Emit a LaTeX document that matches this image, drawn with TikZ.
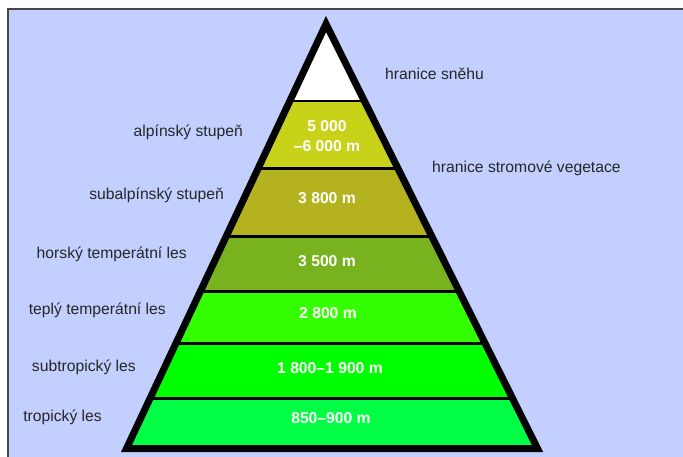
\documentclass[tikz,border=0pt]{standalone}
\usepackage{fontspec}
\setmainfont{Liberation Sans}
\usepackage{xcolor}
\usepackage{tikz}
\usetikzlibrary{positioning}
\definecolor{skyblue}{RGB}{195,208,255}
\definecolor{framegray}{RGB}{70,70,70}
\definecolor{alpinecol}{RGB}{200,210,25}
\definecolor{subalpinecol}{RGB}{180,178,30}
\definecolor{montanecol}{RGB}{120,178,30}
\definecolor{warmcol}{RGB}{51,255,0}
\definecolor{subtropcol}{RGB}{0,255,0}
\definecolor{tropcol}{RGB}{0,255,68}

\begin{document}
\begin{tikzpicture}[x=1pt,y=-1pt,
  zone/.style={inner sep=0pt,text=black!85,font=\fontsize{15.7}{19}\selectfont},
  height/.style={inner sep=0pt,text=white,align=center,font=\bfseries\fontsize{15.7}{20}\selectfont},
  border/.style={line width=3pt}]
\useasboundingbox (0,0) rectangle (683,457);
\fill[skyblue] (8,9) rectangle (683,457);
\draw[framegray,line width=1.5pt] (8,457) -- (8,9) -- (683,9);
\coordinate (top) at (326,24);
\coordinate (bl) at (126.5,448.5);
\coordinate (br) at (537.5,448.5);
\begin{scope}
\clip (top) -- (bl) -- (br) -- cycle;
\fill[white] (100,0) rectangle (560,101);
\fill[alpinecol] (100,101) rectangle (560,169);
\fill[subalpinecol] (100,169) rectangle (560,237);
\fill[montanecol] (100,237) rectangle (560,291);
\fill[warmcol] (100,291) rectangle (560,343);
\fill[subtropcol] (100,343) rectangle (560,398);
\fill[tropcol] (100,398) rectangle (560,460);
\draw[line width=2.5pt] (100,101) -- (560,101);
\draw[border] (100,169) -- (560,169);
\draw[border] (100,237) -- (560,237);
\draw[border] (100,291) -- (560,291);
\draw[border] (100,343) -- (560,343);
\draw[border] (100,398) -- (560,398);
\end{scope}
\draw[line width=7pt,line join=miter] (top) -- (bl) -- (br) -- cycle;
\node[height] (h1) at (327,136.5) {5~000\\–6~000 m};
\node[height,anchor=base] (h2) at (327,204) {3~800 m};
\node[height,anchor=base] (h3) at (327,267) {3~500 m};
\node[height,anchor=base] (h4) at (328,318) {2~800 m};
\node[height,anchor=base] (h5) at (330,373) {1~800–1~900 m};
\node[height,anchor=base] (h6) at (331,423) {850–900 m};
\node[zone,anchor=base west] (snowline) at (385,80) {hranice sněhu};
\node[zone,anchor=base west] (treeline) at (432,173) {hranice stromové vegetace};
\node[zone,anchor=base east] (alpine) at (243,137) {alpínský stupeň};
\node[zone,anchor=base east] (subalpine) at (224,200) {subalpínský stupeň};
\node[zone,anchor=base east] (montane) at (187,259) {horský temperátní les};
\node[zone,anchor=base east] (warm) at (166,314) {teplý temperátní les};
\node[zone,anchor=base east] (subtrop) at (136,371) {subtropický les};
\node[zone,anchor=base east] (trop) at (102,421) {tropický les};
\end{tikzpicture}
\end{document}
